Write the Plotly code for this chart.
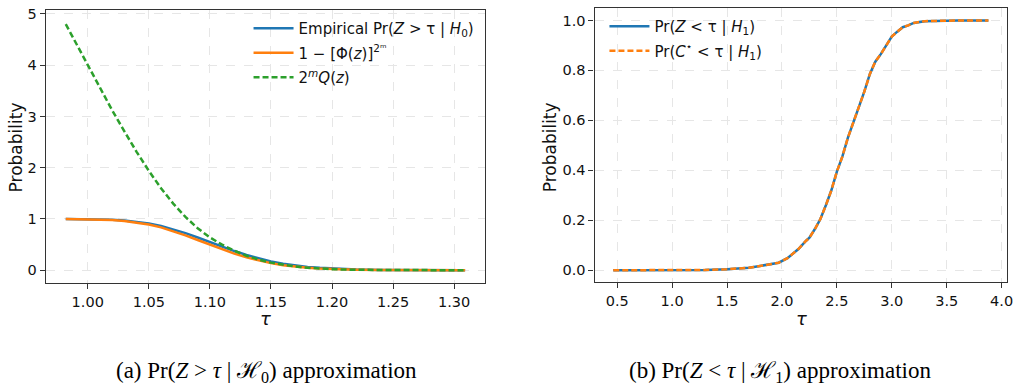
import plotly.graph_objects as go

# ---------------- Data ----------------
# Left panel: tail probability under H0
tau_a = [0.982, 0.99, 1.00, 1.01, 1.02, 1.03, 1.04, 1.05, 1.06, 1.07, 1.08, 1.09,
         1.10, 1.11, 1.12, 1.13, 1.14, 1.15, 1.16, 1.17, 1.18, 1.19, 1.20, 1.22,
         1.24, 1.26, 1.28, 1.309]
empirical_h0 = [1.0, 1.0, 0.998, 0.995, 0.987, 0.972, 0.948, 0.912, 0.862, 0.800, 0.725, 0.640,
                0.550, 0.460, 0.375, 0.298, 0.230, 0.172, 0.127, 0.092, 0.066, 0.047, 0.033, 0.016,
                0.007, 0.003, 0.001, 0.0]
phi_approx = [0.999, 0.998, 0.996, 0.991, 0.981, 0.963, 0.935, 0.893, 0.836, 0.765, 0.682, 0.590,
              0.497, 0.407, 0.324, 0.251, 0.189, 0.139, 0.100, 0.070, 0.049, 0.033, 0.022, 0.010,
              0.004, 0.002, 0.001, 0.0]
union_bound = [4.80, 4.44, 4.00, 3.56, 3.12, 2.71, 2.31, 1.94, 1.60, 1.30, 1.04, 0.82,
               0.64, 0.50, 0.38, 0.284, 0.207, 0.149, 0.105, 0.073, 0.050, 0.033, 0.022, 0.009,
               0.004, 0.001, 0.0005, 0.0]

# Right panel: CDF under H1
tau_b = [0.464, 1.0, 1.3, 1.5, 1.7, 1.8, 1.9, 1.97, 2.05, 2.1, 2.15, 2.22, 2.25, 2.3, 2.35,
         2.4, 2.45, 2.5, 2.55, 2.6, 2.65, 2.7, 2.75, 2.8, 2.85, 2.9, 2.95, 3.0, 3.05,
         3.1, 3.15, 3.2, 3.3, 3.4, 3.6, 3.88]
cdf_z_h1 = [0.0, 0.0, 0.001, 0.004, 0.010, 0.017, 0.024, 0.030, 0.048, 0.065, 0.085, 0.118, 0.130,
            0.165, 0.205, 0.260, 0.320, 0.395, 0.455, 0.530, 0.590, 0.650, 0.715, 0.785, 0.835,
            0.865, 0.900, 0.935, 0.955, 0.973, 0.980, 0.990, 0.997, 0.999, 1.0, 1.0]
cdf_c_h1 = list(cdf_z_h1)

x_ticks_a = [1.00, 1.05, 1.10, 1.15, 1.20, 1.25, 1.30]
y_ticks_a = [0, 1, 2, 3, 4, 5]
x_ticks_b = [0.5, 1.0, 1.5, 2.0, 2.5, 3.0, 3.5, 4.0]
y_ticks_b = [0.0, 0.2, 0.4, 0.6, 0.8, 1.0]

# ---------------- Figure ----------------
W, H = 1026, 389
BLUE, ORANGE, GREEN = "#1f77b4", "#ff7f0e", "#2ca02c"
SANS = "DejaVu Sans"
SERIF = "Liberation Serif"


def px_x(p):
    return p / W


def px_y(p):
    return 1 - p / H


fig = go.Figure()
fig.add_trace(go.Scatter(x=tau_a, y=empirical_h0, mode="lines", line=dict(color=BLUE, width=2.5),
                         name="Empirical Pr(<i>Z</i> > τ | <i>H</i><sub>0</sub>)",
                         xaxis="x", yaxis="y", legend="legend", legendgroup="a1"))
fig.add_trace(go.Scatter(x=tau_a, y=phi_approx, mode="lines", line=dict(color=ORANGE, width=2.5),
                         name="1 − [Φ(<i>z</i>)]<sup>2ᵐ</sup>",
                         xaxis="x", yaxis="y", legend="legend", legendgroup="a2"))
fig.add_trace(go.Scatter(x=tau_a, y=union_bound, mode="lines",
                         line=dict(color=GREEN, width=2.5, dash="6px,3px"),
                         name="2<sup><i>m</i></sup><i>Q</i>(<i>z</i>)",
                         xaxis="x", yaxis="y", legend="legend", legendgroup="a3"))

fig.add_trace(go.Scatter(x=tau_b, y=cdf_z_h1, mode="lines", line=dict(color=BLUE, width=2.5),
                         name="Pr(<i>Z</i> < τ | <i>H</i><sub>1</sub>)",
                         xaxis="x2", yaxis="y2", legend="legend2", legendgroup="b1"))
fig.add_trace(go.Scatter(x=tau_b, y=cdf_c_h1, mode="lines",
                         line=dict(color=ORANGE, width=2.5, dash="6px,3px"),
                         name="Pr(<i>C</i><sup>⋆</sup> < τ | <i>H</i><sub>1</sub>)",
                         xaxis="x2", yaxis="y2", legend="legend2", legendgroup="b2"))

axis_common = dict(showline=True, linecolor="#333333", linewidth=1.2, mirror=True,
                   ticks="outside", ticklen=5, tickcolor="#333333", tickwidth=1,
                   showgrid=True, gridcolor="#e6e6e6", griddash="dash", gridwidth=1,
                   zeroline=False, tickfont=dict(family=SANS, size=14.5, color="#111111"))

fig.update_layout(
    width=W, height=H, margin=dict(l=0, r=0, t=0, b=0),
    paper_bgcolor="white", plot_bgcolor="white",
    xaxis=dict(domain=[px_x(46), px_x(488)], range=[0.9656, 1.3254], anchor="y",
               tickvals=x_ticks_a, tickformat=".2f", **axis_common),
    yaxis=dict(domain=[px_y(282), px_y(6)], range=[-0.25, 5.077], anchor="x",
               tickvals=y_ticks_a, tickformat="d", **axis_common),
    xaxis2=dict(domain=[px_x(598), px_x(1013)], range=[0.293, 4.05], anchor="y2",
                tickvals=x_ticks_b, tickformat=".1f", **axis_common),
    yaxis2=dict(domain=[px_y(281), px_y(4)], range=[-0.0476, 1.05], anchor="x2",
                tickvals=y_ticks_b, tickformat=".1f", **axis_common),
    legend=dict(x=px_x(250), y=px_y(8), xanchor="left", yanchor="top",
                font=dict(family=SANS, size=15, color="#111111"),
                bgcolor="rgba(255,255,255,0)", borderwidth=0, tracegroupgap=2,
                itemwidth=40),
    legend2=dict(x=px_x(608), y=px_y(6), xanchor="left", yanchor="top",
                 font=dict(family=SANS, size=15, color="#111111"),
                 bgcolor="rgba(255,255,255,0)", borderwidth=0, tracegroupgap=2,
                 itemwidth=40),
    showlegend=True,
)

annotations = [
    # y-axis titles
    dict(text="Probability", x=px_x(16), y=px_y(145), textangle=-90, showarrow=False,
         xref="paper", yref="paper", xanchor="center", yanchor="middle",
         font=dict(family=SANS, size=17, color="#111111")),
    dict(text="Probability", x=px_x(553), y=px_y(145), textangle=-90, showarrow=False,
         xref="paper", yref="paper", xanchor="center", yanchor="middle",
         font=dict(family=SANS, size=17, color="#111111")),
    # x-axis titles
    dict(text="<i>τ</i>", x=px_x(267), y=px_y(318), showarrow=False,
         xref="paper", yref="paper", xanchor="center", yanchor="middle",
         font=dict(family=SANS, size=18, color="#111111")),
    dict(text="<i>τ</i>", x=px_x(806), y=px_y(318), showarrow=False,
         xref="paper", yref="paper", xanchor="center", yanchor="middle",
         font=dict(family=SANS, size=18, color="#111111")),
    # captions
    dict(text="(a) Pr(<i>Z</i> > <i>τ</i> | ℋ<sub>0</sub>) approximation", x=px_x(268), y=px_y(372),
         showarrow=False, xref="paper", yref="paper", xanchor="center", yanchor="middle",
         font=dict(family=SERIF, size=23, color="#000000")),
    dict(text="(b) Pr(<i>Z</i> < <i>τ</i> | ℋ<sub>1</sub>) approximation", x=px_x(785), y=px_y(372),
         showarrow=False, xref="paper", yref="paper", xanchor="center", yanchor="middle",
         font=dict(family=SERIF, size=23, color="#000000")),
]
fig.update_layout(annotations=annotations)

# Remove the browser's default 8px body margin so the figure fills the window.
fig.write_html("out.html",
               config={"displayModeBar": False},
               post_script="document.body.style.margin='0';document.body.style.overflow='hidden';")
